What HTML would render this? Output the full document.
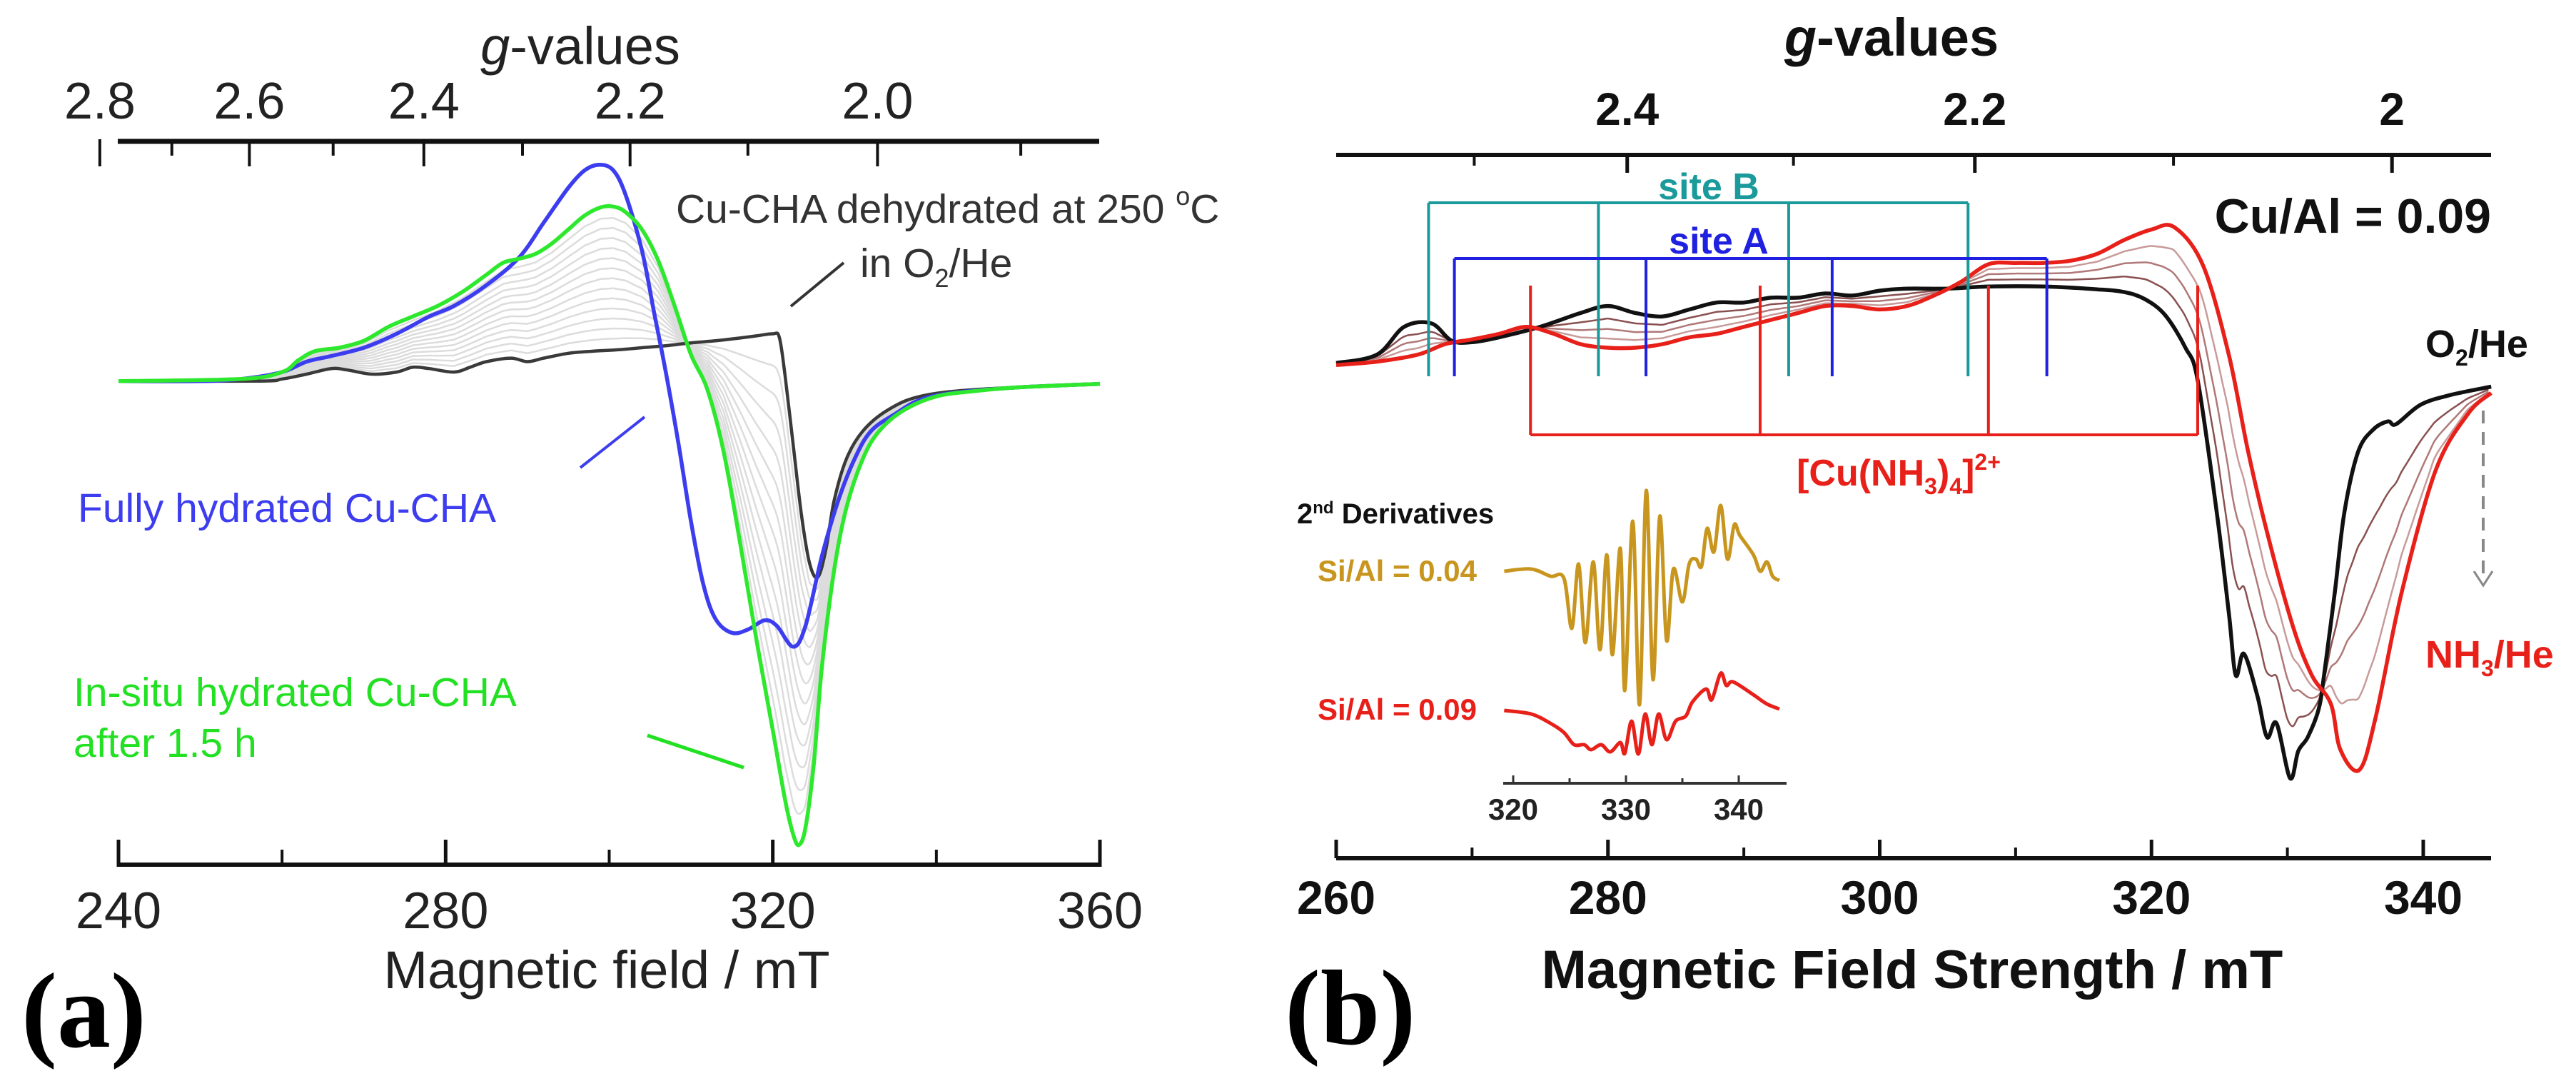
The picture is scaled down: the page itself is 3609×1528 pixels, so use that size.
<!DOCTYPE html>
<html><head><meta charset="utf-8"><style>
html,body{margin:0;padding:0;background:#fff;}
svg{display:block;}
.sa{font-family:"Liberation Sans",Arial,sans-serif;}
.bb{font-family:"Liberation Sans",Arial,sans-serif;font-weight:bold;}
</style></head><body>
<svg id="fig" width="3609" height="1528" viewBox="0 0 3609 1528" xmlns="http://www.w3.org/2000/svg">
<g id="pa"></g>
<g id="pb"></g>
<g>
<text class="sa" x="813" y="90" font-size="74" text-anchor="middle" fill="#222"><tspan font-style="italic">g</tspan>-values</text>
<text class="sa" x="850" y="1384" font-size="74" text-anchor="middle" fill="#222">Magnetic field / mT</text>
<text x="30" y="1466" font-family="Liberation Serif,serif" font-weight="bold" font-size="150">(a)</text>
<text class="sa" x="947" y="312" font-size="57" fill="#333">Cu-CHA dehydrated at 250 <tspan dy="-25" font-size="36">o</tspan><tspan dy="25">C</tspan></text>
<text class="sa" x="1205" y="388" font-size="57" fill="#333">in O<tspan dy="14" font-size="36">2</tspan><tspan dy="-14">/He</tspan></text>
<line x1="1108" y1="429" x2="1182" y2="368" stroke="#333" stroke-width="4"/>
<text class="sa" x="109" y="731" font-size="57" fill="#3d3df0">Fully hydrated Cu-CHA</text>
<line x1="813" y1="655" x2="903" y2="584" stroke="#3d3df0" stroke-width="4"/>
<text class="sa" x="103" y="989" font-size="57" fill="#22e022">In-situ hydrated Cu-CHA</text>
<text class="sa" x="103" y="1060" font-size="57" fill="#22e022">after 1.5 h</text>
<line x1="907" y1="1030" x2="1042" y2="1075" stroke="#22e022" stroke-width="5"/>
</g>
<g>
<text class="bb" x="2650" y="78" font-size="74" text-anchor="middle" fill="#111"><tspan font-style="italic">g</tspan>-values</text>
<text class="bb" x="2679" y="1384" font-size="76" text-anchor="middle" fill="#111">Magnetic Field Strength / mT</text>
<text x="1800" y="1462" font-family="Liberation Serif,serif" font-weight="bold" font-size="150">(b)</text>
<text class="bb" x="3490" y="326" font-size="68" text-anchor="end" fill="#111">Cu/Al = 0.09</text>
<text class="bb" x="2394" y="279" font-size="52" text-anchor="middle" fill="#1a9a9a">site B</text>
<text class="bb" x="2408" y="355" font-size="52" text-anchor="middle" fill="#2020e0">site A</text>
<text class="bb" x="2660" y="680" font-size="52" text-anchor="middle" fill="#e8201a">[Cu(NH<tspan dy="12" font-size="32">3</tspan><tspan dy="-12">)</tspan><tspan dy="12" font-size="32">4</tspan><tspan dy="-12">]</tspan><tspan dy="-22" font-size="32">2+</tspan></text>
<text class="bb" x="3398" y="500" font-size="54" fill="#111">O<tspan dy="12" font-size="32">2</tspan><tspan dy="-12">/He</tspan></text>
<text class="bb" x="3398" y="935" font-size="54" fill="#e8201a">NH<tspan dy="12" font-size="32">3</tspan><tspan dy="-12">/He</tspan></text>
<line x1="3479" y1="575" x2="3479" y2="815" stroke="#888" stroke-width="4" stroke-dasharray="18,12"/>
<polyline points="3466,800 3479,820 3492,800" fill="none" stroke="#888" stroke-width="3"/>
<text class="bb" x="1817" y="733" font-size="40" fill="#111">2<tspan dy="-14" font-size="24">nd</tspan><tspan dy="14"> Derivatives</tspan></text>
<text class="bb" x="1846" y="814" font-size="42" fill="#c8961e">Si/Al = 0.04</text>
<text class="bb" x="1846" y="1008" font-size="42" fill="#e8201a">Si/Al = 0.09</text>
</g>
</svg>
<script>
// ---------- Panel (a) data: [field mT, signal] ----------
const aBlueX=[240,250,255,260,263,266,270,274,278,281,285,289,292,295,297,298.8,300.5,302,304,305.5,307,308.5,310,311.5,313,315,317,319,320.5,322.5,324,326,328,330,332,335,338,342,350,360];
const aBlueY=[0,0,3,13,28,36,48,68,93,108,138,178,228,278,303,311,303,268,188,98,8,-92,-202,-292,-342,-362,-357,-344,-352,-382,-352,-252,-172,-112,-72,-47,-27,-17,-9,-4];
const aGreenX=[240,255,260,262,264,267,270,273,276,279,282,285,287,289,291,293,295,297,299,300.5,302,304,306,308,310,312,314,316,318,320,321.5,322.5,323.2,324,325,326,327.5,329,331,333,336,340,345,350,360];
const aGreenY=[0,3,13,30,43,48,58,78,93,108,128,153,170,176,183,198,218,238,250,251,243,218,173,108,38,-12,-102,-232,-372,-502,-602,-652,-667,-642,-552,-412,-272,-182,-112,-72,-42,-22,-14,-9,-4];
const aDarkX=[240,257,260,263,266,268,271,274,276,278,281,283,285,288,290,292,295,298,301,304,307,310,313,316,318,320,320.8,321.5,322.5,323.5,324.5,325.5,326.5,327.5,329,331,334,338,345,360];
const aDarkY=[0,0,3,10,18,16,10,13,20,18,13,20,28,33,28,33,40,43,45,48,51,55,58,62,65,68,63,8,-92,-192,-262,-282,-242,-172,-112,-72,-42,-22,-12,-4];
const aMixFractions=[0.08,0.15,0.22,0.29,0.36,0.43,0.5,0.57,0.64,0.71,0.78,0.85,0.92];
const aBottomTicks=[240,280,320,360];
const aBottomMinor=[260,300,340];
const aGMajor=[2.8,2.6,2.4,2.2,2.0];
const aGLabels=["2.8","2.6","2.4","2.2","2.0"];
const aGMinor=[2.7,2.5,2.3,2.1,1.9];
// ---------- Panel (b) data ----------
const bBlackX=[260,263,265,267,268.5,270,272,275,278,280,282,284,286,288,290,292,294,296,298,300,302,305,308,312,316,318,319.5,321,322.5,323.4,324.8,325.7,326.2,326.8,327.8,328.5,329.2,330.2,330.8,331.5,332.3,332.7,333.5,334.2,335.2,336.3,337.4,338,339.8,342,345];
const bBlackY=[-2,10,50,55,30,28,35,50,70,80,70,65,75,85,85,92,92,98,95,102,105,105,108,108,104,100,90,67,20,-27,-216,-363,-451,-420,-481,-540,-520,-599,-560,-540,-500,-451,-330,-216,-130,-98,-86,-90,-62,-48,-36];
const bRedX=[260,263,266,268,270,272,274,276,278,280,282,284,286,288,290,292,294,296,298,300,302,304,306,308,310,312,314,316,318,320,321.7,323.8,325.7,327.1,328.5,330.4,331.8,333.2,333.9,335.3,336.5,338.4,340.9,343.3,345];
const bRedY=[-5,0,10,25,32,40,50,40,25,20,20,25,35,40,50,60,70,80,80,75,80,95,115,140,142,142,145,155,175,190,193,138,9,-128,-245,-380,-451,-492,-558,-587,-511,-333,-157,-75,-45];
const bMixFractions=[0.3,0.55,0.78];
const bMixColors=["#8a5050","#b07878","#c89a9a"];
const bBottomTicks=[260,280,300,320,340];
const bBottomMinor=[270,290,310,330];
const bGMajor=[2.4,2.2,2.0];
const bGLabels=["2.4","2.2","2"];
const bGMinor=[2.5,2.3,2.1];
const siteB=[266.8,279.3,293.3,306.5];
const siteA=[268.7,282.8,296.5,312.3];
const cuNH3=[274.3,291.2,308.0,323.4];
const insGoldX=[319.2,321.6,323.3,324.5,325.2,325.8,326.4,327.1,327.7,328.3,328.8,329.5,329.9,330.6,331.2,331.8,332.4,333.0,333.6,334.2,335.0,335.6,336.2,336.7,337.2,337.8,338.4,339.0,339.6,340.1,341.3,341.9,342.5,343.0,343.6];
const insGoldY=[0,3,-7,-10,-80,10,-100,13,-110,23,-117,32,-167,70,-187,113,-152,77,-97,3,-43,10,17,7,60,27,92,17,65,50,23,0,13,-7,-13];
const insRedX=[319.2,321.6,323.3,324.5,325.4,326.3,326.9,327.8,328.6,329.5,329.9,330.5,331.1,331.7,332.3,332.9,333.6,334.4,335.3,335.9,337.1,337.6,338.4,338.9,339.5,341.3,342.5,343.6];
const insRedY=[-2,-7,-20,-33,-50,-50,-57,-50,-60,-47,-62,-17,-63,-7,-50,-7,-43,-17,-10,10,28,13,50,33,38,20,7,0];
const insTicks=[320,330,340];
const insMinor=[325,335];

const NS="http://www.w3.org/2000/svg";
function mk(parent,tag,attrs){const e=document.createElementNS(NS,tag);for(const k in attrs)e.setAttribute(k,attrs[k]);parent.appendChild(e);return e;}
const xa=m=>166+(m-240)*(1541-166)/120;
const ya=v=>0.974*(548-v);
const xb=m=>1872+(m-260)*(3395-1872)/80;
const yb=v=>0.974*(520-v);
const xi=m=>2120+(m-320)*15.8;
const yiG=v=>800-v;
const yiR=v=>993-v;
const gToB_a=g=>71.4484*9.316/g;
const gToB_b=g=>71.4484*9.453/g;
function interp(X,Y,x){if(x<=X[0])return Y[0];for(let i=1;i<X.length;i++){if(x<=X[i]){const t=(x-X[i-1])/(X[i]-X[i-1]);return Y[i-1]+t*(Y[i]-Y[i-1]);}}return Y[Y.length-1];}
function smooth(pts){let d="M"+pts[0][0].toFixed(1)+","+pts[0][1].toFixed(1);for(let i=0;i<pts.length-1;i++){const p0=pts[i-1]||pts[i],p1=pts[i],p2=pts[i+1],p3=pts[i+2]||p2;const c1x=p1[0]+(p2[0]-p0[0])/6,c1y=p1[1]+(p2[1]-p0[1])/6,c2x=p2[0]-(p3[0]-p1[0])/6,c2y=p2[1]-(p3[1]-p1[1])/6;d+="C"+c1x.toFixed(1)+","+c1y.toFixed(1)+" "+c2x.toFixed(1)+","+c2y.toFixed(1)+" "+p2[0].toFixed(1)+","+p2[1].toFixed(1);}return d;}
function series(X,Y,fx,fy){return X.map((x,i)=>[fx(x),fy(Y[i])]);}

// ===== Panel a =====
const pa=document.getElementById('pa');
let l=mk(pa,'line',{x1:165,y1:198,x2:1540,y2:198,stroke:'#111','stroke-width':7});


aGMajor.forEach((g,i)=>{const x=xa(gToB_a(g));
 const t=mk(pa,'line',{x1:x,y1:g===2.8?195:198,x2:x,y2:233,stroke:'#111','stroke-width':4});
 
 
 const tx=mk(pa,'text',{x:x,y:166,'font-size':72,'text-anchor':'middle',fill:'#222',class:'sa'});tx.textContent=aGLabels[i];
 
 });
aGMinor.forEach(g=>{const x=xa(gToB_a(g));const t=mk(pa,'line',{x1:x,y1:198,x2:x,y2:218,stroke:'#111','stroke-width':4});
 
 });
l=mk(pa,'line',{x1:166,y1:1211,x2:1541,y2:1211,stroke:'#111','stroke-width':6});


aBottomTicks.forEach(m=>{const x=xa(m);const t=mk(pa,'line',{x1:x,y1:1176,x2:x,y2:1214,stroke:'#111','stroke-width':5});
 
 
 const tx=mk(pa,'text',{x:x,y:1300,'font-size':72,'text-anchor':'middle',fill:'#222',class:'sa'});tx.textContent=String(m);
 
 });
aBottomMinor.forEach(m=>{const x=xa(m);const t=mk(pa,'line',{x1:x,y1:1190,x2:x,y2:1211,stroke:'#111','stroke-width':4});
 
 });
const gridA=[];for(let m=240;m<=360;m+=0.5)gridA.push(m);
aMixFractions.forEach(f=>{const pts=gridA.map(m=>[xa(m),ya((1-f)*interp(aDarkX,aDarkY,m)+f*interp(aGreenX,aGreenY,m))]);
 const q=mk(pa,'path',{d:smooth(pts),fill:'none',stroke:'#dcdcdc','stroke-width':2.5});
 
 });
let p=mk(pa,'path',{d:smooth(series(aDarkX,aDarkY,xa,ya)),fill:'none',stroke:'#3a3a3a','stroke-width':4.5});


p=mk(pa,'path',{d:smooth(series(aBlueX,aBlueY,xa,ya)),fill:'none',stroke:'#3d3df0','stroke-width':5.5});


p=mk(pa,'path',{d:smooth(series(aGreenX,aGreenY,xa,ya)),fill:'none',stroke:'#2ee82e','stroke-width':5.5});



// ===== Panel b =====
const pb=document.getElementById('pb');
l=mk(pb,'line',{x1:1872,y1:217,x2:3490,y2:217,stroke:'#111','stroke-width':6});


bGMajor.forEach((g,i)=>{const x=xb(gToB_b(g));const t=mk(pb,'line',{x1:x,y1:217,x2:x,y2:242,stroke:'#111','stroke-width':5});
 
 
 const tx=mk(pb,'text',{x:x,y:175,'font-size':64,'text-anchor':'middle',fill:'#111',class:'bb'});tx.textContent=bGLabels[i];
 
 });
bGMinor.forEach(g=>{const x=xb(gToB_b(g));const t=mk(pb,'line',{x1:x,y1:217,x2:x,y2:232,stroke:'#111','stroke-width':4});
 
 });
l=mk(pb,'line',{x1:1872,y1:1202,x2:3490,y2:1202,stroke:'#111','stroke-width':6});


bBottomTicks.forEach(m=>{const x=xb(m);const t=mk(pb,'line',{x1:x,y1:1176,x2:x,y2:1202,stroke:'#111','stroke-width':5});
 
 
 const tx=mk(pb,'text',{x:x,y:1280,'font-size':66,'text-anchor':'middle',fill:'#111',class:'bb'});tx.textContent=String(m);
 
 });
bBottomMinor.forEach(m=>{const x=xb(m);const t=mk(pb,'line',{x1:x,y1:1187,x2:x,y2:1202,stroke:'#111','stroke-width':4});
 
 });
function bracket(pos,yTop,yBot,col,name,up){const x0=xb(pos[0]),x1=xb(pos[pos.length-1]);
 const h=mk(pb,'line',{x1:x0,y1:up?yBot:yTop,x2:x1,y2:up?yBot:yTop,stroke:col,'stroke-width':4});
 
 
 pos.forEach(m=>{const v=mk(pb,'line',{x1:xb(m),y1:yTop,x2:xb(m),y2:yBot,stroke:col,'stroke-width':4});
  
  });}
const gridB=[];for(let m=260;m<=345;m+=0.4)gridB.push(m);
bMixFractions.forEach((f,i)=>{const pts=gridB.map(m=>[xb(m),yb((1-f)*interp(bBlackX,bBlackY,m)+f*interp(bRedX,bRedY,m))]);
 const q=mk(pb,'path',{d:smooth(pts),fill:'none',stroke:bMixColors[i],'stroke-width':2.5});
 
 });
p=mk(pb,'path',{d:smooth(series(bBlackX,bBlackY,xb,yb)),fill:'none',stroke:'#111','stroke-width':5.5});


p=mk(pb,'path',{d:smooth(series(bRedX,bRedY,xb,yb)),fill:'none',stroke:'#e8201a','stroke-width':5.5});


bracket(siteB,284,527,'#1a9a9a','site-b-bracket',false);
bracket(siteA,362,527,'#2020e0','site-a-bracket',false);
bracket(cuNH3,400,609,'#e8201a','cu-nh3-bracket',true);
l=mk(pb,'line',{x1:2106,y1:1097,x2:2503,y2:1097,stroke:'#333','stroke-width':4});


insTicks.forEach(m=>{const x=xi(m);const t=mk(pb,'line',{x1:x,y1:1086,x2:x,y2:1097,stroke:'#333','stroke-width':3});
 
 
 const tx=mk(pb,'text',{x:x,y:1148,'font-size':42,'text-anchor':'middle',fill:'#222',class:'bb'});tx.textContent=String(m);
 
 });
insMinor.forEach(m=>{const x=xi(m);const t=mk(pb,'line',{x1:x,y1:1090,x2:x,y2:1097,stroke:'#333','stroke-width':3});
 
 });
p=mk(pb,'path',{d:smooth(series(insGoldX,insGoldY,xi,yiG)),fill:'none',stroke:'#c8961e','stroke-width':5});


p=mk(pb,'path',{d:smooth(series(insRedX,insRedY,xi,yiR)),fill:'none',stroke:'#e8201a','stroke-width':5});


</script>
</body></html>
